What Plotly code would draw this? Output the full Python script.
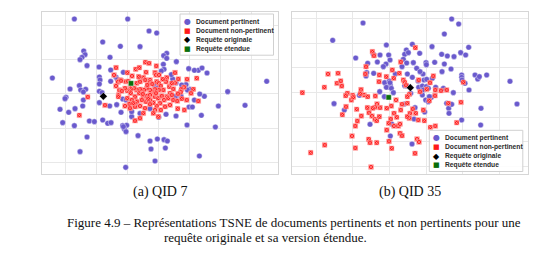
import plotly.graph_objects as go

# ---- data (t-SNE coordinates, arbitrary units) ----
rel_a = [(103,-57),(263,-57),(327,-93),(350,-99),(188,-126),(241,-139),(300,-140),(131,-153),(135,-164),
         (126,-172),(120,-179),(380,-160),(371,-167),(380,-175),(210,-172),(409,-185),(141,-197),(177,-201),
         (212,-210),(250,-217),(370,-193),(372,-208),(475,-211),(486,-204),(501,-219),(446,-206),(37,-234),
         (680,-244),(178,-231),(180,-240),(212,-244),(228,-232),(232,-238),(344,-257),(353,-263),(118,-257),
         (90,-267),(122,-270),(137,-268),(130,-276),(78,-292),(75,-296),(130,-300),(128,-318),(60,-328),
         (105,-326),(86,-337),(178,-252),(178,-274),(186,-278),(178,-308),(209,-318),(230,-314),(248,-297),
         (258,-300),(243,-337),(275,-350),(68,-368),(103,-377),(148,-363),(163,-365),(188,-360),(203,-370),
         (213,-368),(248,-377),(260,-376),(253,-387),(258,-395),(141,-411),(120,-455),(294,-407),(330,-423),
         (352,-417),(372,-419),(382,-423),(333,-447),(376,-444),(345,-483),(257,-502),(478,-468),(526,-381),
         (441,-375),(408,-348),(378,-343),(447,-321),(457,-321),(484,-346),(535,-318),(563,-275),(615,-316),
         (493,-289),(479,-282),(463,-300),(423,-288),(408,-290),(450,-268),(438,-254),(408,-249),(398,-237),
         (394,-224),(364,-213),(463,-211),(330,-326),(300,-340),(290,-310),(356,-352),(275,-335),(250,-380),
         (442,-270),(425,-255),(405,-290)]
nonrel_a = [(228,-203),(287,-208),(298,-203),(316,-187),(327,-190),(349,-198),(262,-218),(276,-228),(318,-217),
            (345,-218),(348,-225),(357,-225),(405,-218),(380,-233),(310,-233),(316,-240),(330,-240),(240,-240),
            (234,-246),(258,-245),(264,-244),(272,-256),(290,-250),(300,-245),(330,-247),(337,-252),(350,-245),
            (356,-250),(362,-258),(378,-245),(388,-260),(405,-248),(415,-237),(441,-238),(432,-262),(424,-268),
            (422,-276),(414,-281),(400,-267),(390,-280),(380,-290),(370,-270),(356,-270),(345,-268),(336,-275),
            (330,-270),(320,-265),(312,-270),(300,-268),(290,-270),(282,-265),(272,-268),(262,-272),(255,-265),
            (238,-270),(236,-285),(262,-295),(272,-280),(285,-290),(298,-280),(310,-292),(320,-288),(330,-285),
            (345,-290),(355,-295),(365,-288),(372,-300),(385,-295),(400,-300),(412,-303),(425,-296),(440,-300),
            (460,-268),(475,-303),(433,-330),(413,-326),(390,-315),(375,-320),(360,-310),(350,-318),(340,-308),
            (330,-300),(318,-305),(305,-300),(290,-305),(275,-300),(268,-312),(270,-325),(255,-318),(285,-320),
            (300,-318),(315,-325),(330,-313),(345,-330),(355,-350),(340,-340),(310,-340),(285,-362),(300,-355),
            (143,-291),(118,-346),(195,-316),(245,-273),(228,-258),(222,-225),(243,-242),(235,-290),(296,-230),
            (322,-255),(368,-238),(395,-250),(348,-280),(325,-296),(308,-282),(280,-310),(362,-330),(395,-285),
            (470,-235),(453,-280)]
rel_b = [(219,-69),(485,-57),(506,-72),(463,-102),(128,-121),(289,-135),(367,-133),(426,-140),(536,-142),
         (349,-150),(197,-174),(250,-163),(270,-165),(296,-165),(344,-163),(355,-158),(340,-178),(350,-189),
         (370,-188),(389,-160),(408,-188),(409,-194),(434,-187),(455,-163),(472,-168),(492,-170),(512,-158),
         (527,-165),(463,-192),(483,-207),(233,-190),(262,-186),(288,-192),(280,-200),(300,-180),(316,-222),
         (352,-222),(367,-232),(384,-243),(380,-205),(399,-222),(402,-240),(410,-238),(427,-235),(456,-215),
         (515,-225),(515,-232),(516,-240),(555,-225),(563,-237),(568,-230),(590,-225),(660,-244),(681,-312),
         (230,-218),(251,-220),(284,-248),(298,-243),(301,-255),(297,-262),(289,-262),(269,-275),(304,-265),
         (310,-278),(344,-257),(351,-258),(362,-280),(386,-262),(397,-258),(409,-260),(415,-265),(400,-270),
         (397,-285),(407,-300),(415,-305),(424,-292),(437,-262),(460,-265),(490,-278),(537,-270),(525,-250),
         (470,-310),(476,-325),(485,-313),(477,-340),(515,-360),(573,-325),(572,-375),(163,-330),(132,-311),
         (208,-286),(240,-373),(283,-290),(301,-408),(305,-372),(343,-312),(375,-323),(372,-357),(404,-336),
         (366,-432),(300,-248),(418,-290),(228,-228),(336,-200),(390,-215)]
nonrel_b = [(247,-155),(376,-143),(252,-167),(332,-186),(228,-200),(114,-222),(144,-220),(103,-262),(141,-250),
            (152,-243),(155,-258),(172,-280),(167,-287),(188,-286),(184,-300),(190,-292),(213,-269),(222,-285),
            (233,-290),(256,-288),(268,-225),(267,-245),(289,-230),(307,-210),(311,-235),(328,-220),(340,-240),
            (344,-247),(348,-256),(358,-283),(386,-240),(390,-275),(410,-268),(430,-228),(420,-248),(436,-270),
            (453,-272),(470,-270),(435,-287),(418,-302),(520,-247),(513,-307),(475,-310),(500,-368),(436,-378),
            (421,-382),(400,-330),(403,-362),(385,-360),(360,-340),(358,-355),(352,-350),(332,-330),(312,-340),
            (320,-352),(302,-357),(296,-370),(312,-378),(325,-378),(330,-372),(290,-390),(330,-400),(336,-407),
            (336,-313),(352,-310),(368,-327),(377,-340),(352,-290),(318,-300),(304,-318),(290,-325),(270,-323),
            (261,-312),(255,-322),(248,-325),(237,-338),(232,-323),(246,-348),(255,-358),(260,-362),(268,-350),
            (214,-348),(202,-363),(200,-328),(168,-320),(157,-344),(196,-378),(186,-408),(236,-418),(240,-428),
            (260,-428),(297,-424),(305,-445),(381,-417),(387,-426),(375,-460),(196,-444),(104,-435),(62,-458),
            (243,-501),(37,-278),(211,-281),(226,-222)]
query_a = [(190,-289)]
expanded_a = [(273,-250)]
query_b = [(361,-263)]
expanded_b = [(296,-292)]

legend_labels = ["Document pertinent", "Document non-pertinent", "Requête originale", "Requête étendue"]
sub_captions = ["(a) QID 7", "(b) QID 35"]
caption_1 = "Figure 4.9 – Représentations TSNE de documents pertinents et non pertinents pour une"
caption_2 = "requête originale et sa version étendue."

# ---- styling ----
W, H = 557, 255
BLUE = "#6A5ACD"
RED = "#FF1A1A"
GREEN = "#0A6E0A"

def px(x):
    return x / W

def py(y):
    return 1 - y / H

def xs(p):
    return [a for a, b in p]

def ys(p):
    return [b for a, b in p]

fig = go.Figure()
for (rel, non, q, e, xa, ya) in [(rel_a, nonrel_a, query_a, expanded_a, "x", "y"),
                                 (rel_b, nonrel_b, query_b, expanded_b, "x2", "y2")]:
    fig.add_trace(go.Scatter(x=xs(rel), y=ys(rel), mode="markers", xaxis=xa, yaxis=ya,
                             marker=dict(symbol="circle", size=5.6, color=BLUE,
                                         line=dict(color="white", width=0.4)), showlegend=False))
    fig.add_trace(go.Scatter(x=xs(non), y=ys(non), mode="markers", xaxis=xa, yaxis=ya,
                             marker=dict(symbol="square-x", size=4.6, color=RED,
                                         line=dict(color="#ffb0b0", width=0.6)), showlegend=False))
    fig.add_trace(go.Scatter(x=xs(q), y=ys(q), mode="markers", xaxis=xa, yaxis=ya,
                             marker=dict(symbol="diamond", size=6, color="black",
                                         line=dict(color="white", width=0.4)), showlegend=False))
    fig.add_trace(go.Scatter(x=xs(e), y=ys(e), mode="markers", xaxis=xa, yaxis=ya,
                             marker=dict(symbol="square", size=5.2, color=GREEN,
                                         line=dict(color="white", width=0.4)), showlegend=False))

axis_common = dict(showticklabels=False, ticks="", showgrid=True, gridcolor="#e8e8e8", gridwidth=1,
                   zeroline=False, showline=True, mirror=True, linecolor="#d6d6d6", linewidth=1,
                   tickmode="linear")
fig.update_layout(
    width=W, height=H, margin=dict(l=0, r=0, t=0, b=0),
    paper_bgcolor="white", plot_bgcolor="white",
    xaxis=dict(domain=[px(41.7), px(277.7)], range=[5, 713], tick0=77, dtick=93, **axis_common),
    yaxis=dict(domain=[py(174), py(12.3)], range=[-522, -37], tick0=-488.3, dtick=103.2, **axis_common),
    xaxis2=dict(domain=[px(291.7), px(528)], range=[5, 714], tick0=78, dtick=110.1, anchor="y2", **axis_common),
    yaxis2=dict(domain=[py(174), py(12.3)], range=[-522, -37], tick0=-500.2, dtick=74.2, anchor="x2", **axis_common),
)

shapes = []
annotations = []
glyphs = [("●", BLUE, 8), ("■", RED, 7), ("◆", "black", 8), ("■", GREEN, 7)]
for (bx, by) in [(180, 14), (429.3, 130.3)]:
    shapes.append(dict(type="rect", xref="paper", yref="paper", x0=px(bx), x1=px(bx + 93.5),
                       y0=py(by + 41.2), y1=py(by), line=dict(color="#d0d0d0", width=1),
                       fillcolor="rgba(255,255,255,0.85)", layer="above"))
    for i, lab in enumerate(legend_labels):
        yy = by + 7.5 + i * 9.1
        g, c, s = glyphs[i]
        annotations.append(dict(xref="paper", yref="paper", x=px(bx + 7.6), y=py(yy), text=g,
                                showarrow=False, xanchor="center", yanchor="middle",
                                font=dict(family="DejaVu Sans", size=s, color=c)))
        annotations.append(dict(xref="paper", yref="paper", x=px(bx + 13.5), y=py(yy), text="<b>%s</b>" % lab,
                                showarrow=False, xanchor="left", yanchor="middle",
                                font=dict(family="Liberation Sans", size=6.7, color="#2a2a2a")))

serif = dict(family="Liberation Serif", size=13, color="#111111")
sub = dict(family="Liberation Serif", size=14, color="#111111")
annotations.append(dict(xref="paper", yref="paper", x=px(159.7), y=py(192), text=sub_captions[0],
                        showarrow=False, xanchor="center", yanchor="middle", font=sub))
annotations.append(dict(xref="paper", yref="paper", x=px(410), y=py(192), text=sub_captions[1],
                        showarrow=False, xanchor="center", yanchor="middle", font=sub))
annotations.append(dict(xref="paper", yref="paper", x=px(65), y=py(222.5), text=caption_1,
                        showarrow=False, xanchor="left", yanchor="middle", font=serif))
annotations.append(dict(xref="paper", yref="paper", x=px(162), y=py(237.5), text=caption_2,
                        showarrow=False, xanchor="left", yanchor="middle", font=serif))

fig.update_layout(shapes=shapes, annotations=annotations)
fig.write_html("out.html")
